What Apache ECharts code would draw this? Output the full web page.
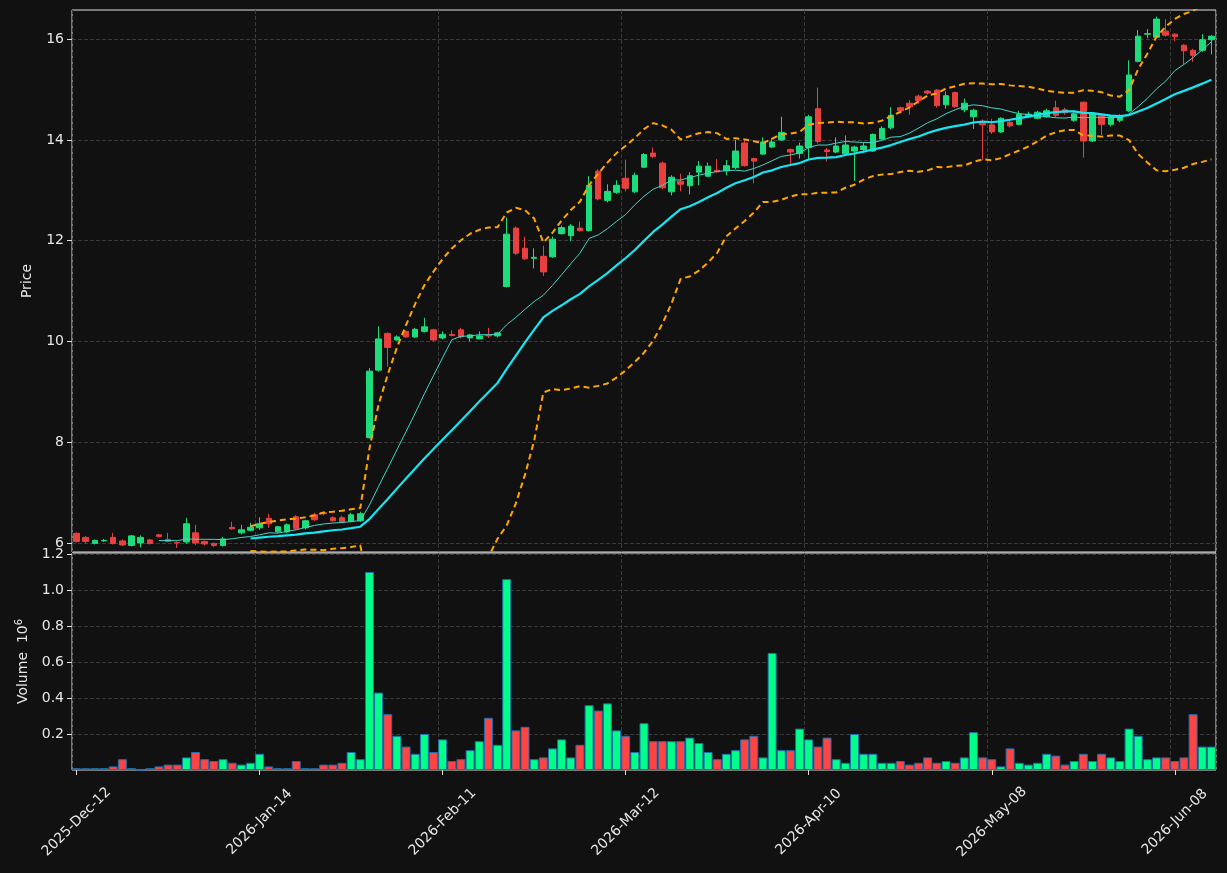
<!DOCTYPE html>
<html>
<head>
<meta charset="utf-8">
<script src="https://cdn.jsdelivr.net/npm/echarts@6/dist/echarts.min.js"></script>
<style>
  html, body { margin: 0; padding: 0; background: #111111; }
  #main { width: 1227px; height: 873px; }
</style>
</head>
<body>
<div id="main"></div>
<script>
// trading days, per month
var months = [
  ['2025', 'Dec', [12, 15, 16, 17, 18, 19, 22, 23, 26, 29, 30, 31]],
  ['2026', 'Jan', [2, 5, 6, 7, 8, 9, 12, 13, 14, 15, 16, 19, 20, 21, 22, 23, 26, 27, 28, 29, 30]],
  ['2026', 'Feb', [2, 3, 4, 5, 6, 9, 10, 11, 12, 13, 17, 18, 19, 20, 23, 24, 25, 26, 27]],
  ['2026', 'Mar', [2, 3, 4, 5, 6, 9, 10, 11, 12, 13, 16, 17, 18, 19, 20, 23, 24, 25, 26, 27, 30, 31]],
  ['2026', 'Apr', [1, 2, 6, 7, 8, 9, 10, 13, 14, 15, 16, 17, 20, 21, 22, 23, 24, 27, 28, 29, 30]],
  ['2026', 'May', [1, 4, 5, 6, 7, 8, 11, 12, 13, 14, 15, 18, 19, 20, 21, 22, 26, 27, 28, 29]],
  ['2026', 'Jun', [1, 2, 3, 4, 5, 8, 9, 10, 11, 12]]
];

var opens = [
  6.19, 6.11, 5.99, 6.04, 6.11, 6.04, 5.95, 6.00, 6.06, 6.16,
  6.07, 6.01, 6.02, 6.20, 6.03, 5.99, 5.95, 6.31, 6.20, 6.25,
  6.30, 6.49, 6.22, 6.22, 6.52, 6.30, 6.56, 6.60, 6.50, 6.50,
  6.43, 6.44, 8.09, 9.43, 10.16, 10.03, 10.20, 10.09, 10.20, 10.23,
  10.07, 10.14, 10.23, 10.07, 10.05, 10.12, 10.11, 11.09, 12.25, 11.85,
  11.65, 11.69, 11.68, 12.14, 12.10, 12.25, 12.20, 13.38, 12.80, 12.96,
  13.24, 12.97, 13.46, 13.74, 13.54, 12.97, 13.18, 13.09, 13.36, 13.28,
  13.40, 13.39, 13.45, 13.94, 13.63, 13.72, 13.86, 14.00, 13.81, 13.73,
  13.85, 14.62, 13.80, 13.76, 13.73, 13.78, 13.81, 13.78, 14.02, 14.24,
  14.64, 14.73, 14.87, 14.97, 14.99, 14.70, 14.94, 14.60, 14.46, 14.36,
  14.30, 14.16, 14.35, 14.31, 14.46, 14.43, 14.46, 14.64, 14.60, 14.39,
  14.75, 13.98, 14.49, 14.31, 14.39, 14.58, 15.56, 16.10, 16.04, 16.16,
  16.10, 15.88, 15.78, 15.78, 15.99
];
var closes = [
  6.03, 6.03, 6.05, 6.05, 5.99, 5.96, 6.14, 6.11, 5.99, 6.13,
  6.03, 6.00, 6.38, 6.00, 5.98, 5.95, 6.08, 6.28, 6.26, 6.31,
  6.38, 6.38, 6.32, 6.36, 6.28, 6.44, 6.46, 6.58, 6.44, 6.42,
  6.56, 6.58, 9.41, 10.05, 9.88, 10.09, 10.09, 10.24, 10.29, 10.03,
  10.14, 10.12, 10.09, 10.13, 10.11, 10.11, 10.17, 12.13, 11.75, 11.64,
  11.67, 11.38, 12.03, 12.26, 12.29, 12.20, 13.10, 12.83, 12.98, 13.10,
  13.04, 13.30, 13.71, 13.67, 13.05, 13.26, 13.12, 13.29, 13.48, 13.48,
  13.37, 13.49, 13.78, 13.49, 13.58, 13.96, 13.96, 14.15, 13.76, 13.88,
  14.46, 13.97, 13.77, 13.88, 13.90, 13.86, 13.88, 14.11, 14.23, 14.49,
  14.58, 14.66, 14.78, 14.93, 14.68, 14.88, 14.66, 14.73, 14.59, 14.30,
  14.16, 14.43, 14.28, 14.51, 14.51, 14.55, 14.58, 14.49, 14.54, 14.52,
  13.98, 14.52, 14.31, 14.46, 14.47, 15.29, 16.06, 16.11, 16.40, 16.08,
  16.05, 15.77, 15.68, 15.99, 16.06
];
var highs = [
  6.21, 6.14, 6.07, 6.08, 6.20, 6.07, 6.16, 6.15, 6.08, 6.18,
  6.20, 6.03, 6.50, 6.36, 6.05, 6.01, 6.12, 6.42, 6.36, 6.40,
  6.51, 6.58, 6.34, 6.39, 6.55, 6.46, 6.60, 6.62, 6.53, 6.54,
  6.60, 6.62, 9.47, 10.30, 10.18, 10.12, 10.22, 10.27, 10.47, 10.25,
  10.20, 10.22, 10.27, 10.15, 10.20, 10.27, 10.19, 12.46, 12.28, 12.08,
  11.85, 11.90, 12.08, 12.30, 12.33, 12.38, 13.28, 13.42, 13.12, 13.20,
  13.61, 13.35, 13.74, 13.85, 13.57, 13.30, 13.33, 13.36, 13.58, 13.55,
  13.62, 13.60, 14.00, 14.00, 13.65, 14.05, 14.04, 14.46, 13.83, 13.95,
  14.50, 15.04, 13.84, 14.05, 14.09, 13.89, 13.95, 14.13, 14.27, 14.65,
  14.66, 14.79, 14.90, 14.99, 15.01, 14.96, 14.96, 14.82, 14.62, 14.41,
  14.42, 14.45, 14.42, 14.58, 14.56, 14.58, 14.62, 14.78, 14.64, 14.59,
  14.75, 14.54, 14.52, 14.49, 14.51, 15.58, 16.18, 16.20, 16.45, 16.40,
  16.12, 15.90, 15.81, 16.10, 16.08
];
var lows = [
  6.01, 5.99, 5.97, 6.02, 5.97, 5.94, 5.93, 5.91, 5.97, 6.11,
  6.01, 5.90, 5.98, 5.96, 5.95, 5.92, 5.93, 6.26, 6.17, 6.23,
  6.26, 6.30, 6.20, 6.20, 6.26, 6.27, 6.44, 6.55, 6.42, 6.40,
  6.41, 6.42, 8.07, 9.40, 9.50, 10.01, 10.07, 10.07, 10.18, 10.00,
  10.04, 10.10, 10.06, 10.00, 10.08, 10.07, 10.08, 11.07, 11.72, 11.62,
  11.45, 11.30, 11.66, 12.12, 11.99, 12.18, 12.18, 12.80, 12.76, 12.93,
  12.98, 12.95, 13.44, 13.64, 13.02, 12.90, 12.98, 12.92, 13.10, 13.26,
  13.35, 13.30, 13.42, 13.47, 13.14, 13.70, 13.84, 13.98, 13.52, 13.63,
  13.60, 13.93, 13.57, 13.74, 13.70, 13.19, 13.78, 13.76, 14.00, 14.21,
  14.55, 14.50, 14.72, 14.90, 14.64, 14.62, 14.64, 14.55, 14.22, 13.60,
  14.12, 14.14, 14.25, 14.29, 14.44, 14.41, 14.44, 14.45, 14.50, 14.36,
  13.65, 13.96, 14.10, 14.27, 14.35, 14.55, 15.54, 16.02, 16.02, 16.05,
  15.96, 15.50, 15.55, 15.75, 15.70
];
// volume, millions
var volumes = [
  0.01, 0.01, 0.01, 0.01, 0.02, 0.06, 0.01, 0.00, 0.01, 0.02,
  0.03, 0.03, 0.07, 0.10, 0.06, 0.05, 0.06, 0.04, 0.03, 0.04,
  0.09, 0.02, 0.01, 0.01, 0.05, 0.01, 0.01, 0.03, 0.03, 0.04,
  0.10, 0.06, 1.10, 0.43, 0.31, 0.19, 0.13, 0.09, 0.20, 0.10,
  0.17, 0.05, 0.06, 0.11, 0.16, 0.29, 0.14, 1.06, 0.22, 0.24,
  0.06, 0.07, 0.12, 0.17, 0.07, 0.14, 0.36, 0.33, 0.37, 0.22,
  0.19, 0.10, 0.26, 0.16, 0.16, 0.16, 0.16, 0.18, 0.15, 0.10,
  0.06, 0.09, 0.11, 0.17, 0.19, 0.07, 0.65, 0.11, 0.11, 0.23,
  0.17, 0.13, 0.18, 0.06, 0.04, 0.20, 0.09, 0.09, 0.04, 0.04,
  0.05, 0.03, 0.04, 0.07, 0.04, 0.05, 0.04, 0.07, 0.21, 0.07,
  0.06, 0.02, 0.12, 0.04, 0.03, 0.04, 0.09, 0.08, 0.03, 0.05,
  0.09, 0.05, 0.09, 0.07, 0.05, 0.23, 0.19, 0.06, 0.07, 0.07,
  0.05, 0.07, 0.31, 0.13, 0.13
];
var priceTicks = [6, 8, 10, 12, 14, 16];
var volTicks = [0.2, 0.4, 0.6, 0.8, 1.0, 1.2];

var UP = '#1ddc7c', DOWN = '#e8403f';
var VUP = '#00ff88', VDOWN = '#ff4444';

var dates = [];
months.forEach(function (m) {
  m[2].forEach(function (d) {
    dates.push(m[0] + '-' + m[1] + '-' + (d < 10 ? '0' + d : d));
  });
});

var candles = opens.map(function (o, i) { return [o, closes[i], lows[i], highs[i]]; });

// 移动平均 / 布林带
function sma(n) {
  return closes.map(function (c, i) {
    if (i < n - 1) return '-';
    var s = 0;
    for (var k = i - n + 1; k <= i; k++) s += closes[k];
    return +(s / n).toFixed(4);
  });
}
function band(n, mult, sign) {
  var m = sma(n);
  return closes.map(function (c, i) {
    if (i < n - 1) return '-';
    var v = 0;
    for (var k = i - n + 1; k <= i; k++) v += Math.pow(closes[k] - m[i], 2);
    return +(m[i] + sign * mult * Math.sqrt(v / n)).toFixed(4);
  });
}

var volData = volumes.map(function (v, i) {
  var up = closes[i] >= opens[i];
  return { value: v, itemStyle: { color: up ? VUP : VDOWN, borderColor: '#1f6fb0', borderWidth: 1 } };
});

var gridLine = { show: true, lineStyle: { color: '#3a3a3a', type: 'dashed' } };
var labelColor = '#e6e6e6';
var every20 = function (i) { return i % 20 === 0; };

var myChart = echarts.init(document.getElementById('main'));
myChart.setOption({
  backgroundColor: '#111111',
  animation: false,
  grid: [
    { left: 72, right: 11, top: 10, height: 542, show: true, borderColor: '#e0e0e0', borderWidth: 1 },
    { left: 72, right: 11, top: 553, height: 217, show: true, borderColor: '#e0e0e0', borderWidth: 1 }
  ],
  xAxis: [
    { type: 'category', gridIndex: 0, data: dates, boundaryGap: true,
      axisLine: { show: false }, axisTick: { show: false }, axisLabel: { show: false },
      splitLine: { show: true, interval: every20, lineStyle: gridLine.lineStyle } },
    { type: 'category', gridIndex: 1, data: dates, boundaryGap: true,
      axisLine: { show: false },
      axisTick: { show: true, interval: every20, alignWithLabel: true, lineStyle: { color: '#e0e0e0' } },
      axisLabel: { interval: every20, rotate: 45, align: 'center', verticalAlign: 'middle', margin: 52,
        color: labelColor, fontSize: 14, fontFamily: 'DejaVu Sans' },
      splitLine: { show: true, interval: every20, lineStyle: gridLine.lineStyle } }
  ],
  yAxis: [
    { type: 'value', gridIndex: 0, min: 5.82, max: 16.58, name: 'Price', nameLocation: 'middle', nameGap: 38,
      nameTextStyle: { color: labelColor, fontSize: 14, fontFamily: 'DejaVu Sans' },
      axisLine: { show: false },
      axisTick: { show: true, customValues: priceTicks, lineStyle: { color: '#e0e0e0' } },
      axisLabel: { customValues: priceTicks, color: labelColor, fontSize: 14, fontFamily: 'DejaVu Sans' },
      splitLine: { show: true, customValues: priceTicks, lineStyle: gridLine.lineStyle } },
    { type: 'value', gridIndex: 1, min: 0, max: 1.205, name: '{a|Volume  10}{b|6}', nameLocation: 'middle', nameGap: 38,
      nameTextStyle: { color: labelColor, fontFamily: 'DejaVu Sans',
        rich: { a: { fontSize: 14, color: labelColor }, b: { fontSize: 10, color: labelColor, verticalAlign: 'top', padding: [0, 0, 8, 0] } } },
      axisLine: { show: false },
      axisTick: { show: true, customValues: volTicks, lineStyle: { color: '#e0e0e0' } },
      axisLabel: { customValues: volTicks, color: labelColor, fontSize: 14, fontFamily: 'DejaVu Sans',
        formatter: function (v) { return v.toFixed(1); } },
      splitLine: { show: true, customValues: volTicks, lineStyle: gridLine.lineStyle } }
  ],
  series: [
    { type: 'candlestick', xAxisIndex: 0, yAxisIndex: 0, data: candles, barWidth: 6,
      itemStyle: { color: UP, color0: DOWN, borderColor: UP, borderColor0: DOWN, borderWidth: 1 } },
    { type: 'line', data: sma(10), symbol: 'none', lineStyle: { color: '#3fd6c8', width: 1 }, z: 3 },
    { type: 'line', data: sma(20), symbol: 'none', lineStyle: { color: '#16e6f2', width: 2.2 }, z: 3 },
    { type: 'line', data: band(20, 2, 1), symbol: 'none', lineStyle: { color: '#ffa500', width: 2, type: [6, 4] }, z: 4 },
    { type: 'line', data: band(20, 2, -1), symbol: 'none', lineStyle: { color: '#ffa500', width: 2, type: [6, 4] }, z: 4 },
    { type: 'bar', xAxisIndex: 1, yAxisIndex: 1, data: volData, barCategoryGap: '2%' }
  ]
});
window.onresize = myChart.resize;
</script>
</body>
</html>
